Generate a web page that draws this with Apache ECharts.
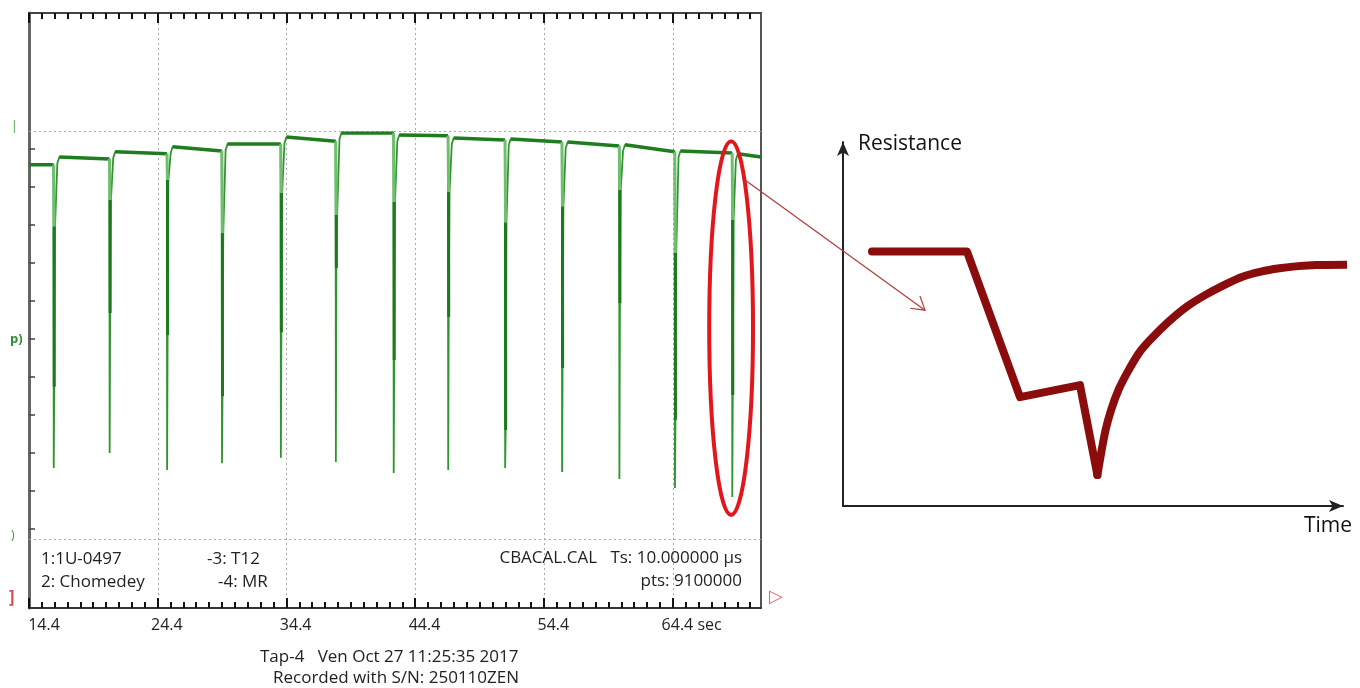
<!DOCTYPE html>
<html>
<head>
<meta charset="utf-8">
<title>Tap-4 resistance trace</title>
<script src="https://cdn.jsdelivr.net/npm/echarts@6.0.0/dist/echarts.min.js"></script>
<style>
html, body { margin: 0; padding: 0; background: #fff; }
#chart { width: 1360px; height: 688px; }
</style>
</head>
<body>
<div id="chart"></div>
<script>
// recorder trace: time in sec, level in screen divisions
const tickLabels = ['14.4', '24.4', '34.4', '44.4', '54.4', '64.4 sec']
const majorTicks = [14.4, 24.4, 34.4, 44.4, 54.4, 64.4]
const levelTicks = [0.25, 1.18, 2.11, 3.04, 3.97, 4.90, 5.83, 6.76, 7.70, 8.63, 9.56]
const dipTimes = [16.30, 20.64, 25.10, 29.36, 33.93, 38.20, 42.69, 46.92, 51.34, 55.76, 60.21, 64.52, 68.97]
const dipBottoms = [1.74, 2.11, 1.69, 1.86, 1.99, 1.89, 1.62, 1.69, 1.74, 1.64, 1.47, 1.25, 1.03]
const dipShoulders = [3.73, 5.54, 5.00, 3.50, 5.07, 6.64, 4.39, 5.44, 2.67, 4.19, 5.78, 2.92, 3.53]
const dipKnees = [7.65, 8.31, 8.80, 7.50, 8.48, 7.94, 8.26, 8.50, 7.75, 8.14, 8.55, 7.01, 7.82]
const plateauStart = [9.17, 9.36, 9.49, 9.61, 9.68, 9.85, 9.95, 9.90, 9.83, 9.80, 9.73, 9.66, 9.51, 9.44]
const plateauEnd = [9.17, 9.31, 9.44, 9.51, 9.68, 9.75, 9.95, 9.88, 9.78, 9.73, 9.63, 9.49, 9.46, 9.36]

// sketch of one event
const dropTime = [2.9, 12.4, 17.7, 23.7, 25.44]
const dropResistance = [6.99, 6.99, 2.99, 3.32, 0.85]
const recoveryTime = [25.44, 25.81, 26.26, 26.81, 27.55, 28.48, 29.59, 30.7, 32.55, 34.4, 36.25, 38.1, 39.95, 41.8, 43.65, 45.5, 47.34, 51.0]
const recoveryResistance = [0.85, 1.45, 2.09, 2.64, 3.19, 3.69, 4.20, 4.56, 5.06, 5.48, 5.80, 6.07, 6.30, 6.44, 6.53, 6.59, 6.62, 6.63]

// highlighted last event and the pointer to the sketch
const ringTime = [67.2, 70.6]
const ringLevel = [0.59, 9.75]
const pointerFrom = [69.98, 8.80]
const pointerTo = [8.2, 5.38]

const tMin = 14.4
const tMax = 71.22
const levelMin = -1.69
const levelMax = 12.89

const trace = []
const plateau = []
const burst = []
const core = []
for (let i = 0; i < plateauStart.length; i++) {
  const a = i === 0 ? tMin : dipTimes[i - 1] + 0.45
  const b = i < dipTimes.length ? dipTimes[i] : tMax
  trace.push([a, plateauStart[i]], [b, plateauEnd[i]])
  plateau.push([a, plateauStart[i]], [b, plateauEnd[i]], [b + 0.01, null])
  if (i < dipTimes.length) {
    const t = dipTimes[i]
    trace.push(
      [t + 0.02, dipBottoms[i]],
      [t + 0.06, dipShoulders[i]],
      [t + 0.12, dipKnees[i]],
      [t + 0.3, plateauStart[i + 1] - 0.15]
    )
    burst.push([t + 0.01, plateauEnd[i]], [t + 0.05, dipKnees[i]], [t + 0.06, null])
    core.push([t + 0.05, dipKnees[i]], [t + 0.06, dipShoulders[i]], [t + 0.07, null])
  }
}

const font = '"Open Sans", "Noto Sans", sans-serif'
const hidden = () => ({ show: false })
// labels sit slightly left of their tick, like the recorder print
const labelGap = [30, 18, 18, 18, 18, 37]

function segmentSeries(name, data, color, width) {
  return {
    name: name,
    type: 'line',
    xAxisIndex: 0,
    yAxisIndex: 0,
    data: data,
    showSymbol: false,
    connectNulls: false,
    lineStyle: { color: color, width: width },
    z: 4
  }
}

const rich = { t: { fontSize: 16, fontFamily: font, color: '#222' } }
labelGap.forEach((w, i) => { rich['g' + i] = { width: w } })

const chart = echarts.init(document.getElementById('chart'))

const option = {
  animation: false,
  backgroundColor: '#fff',
  grid: [
    { left: 29, right: 599, top: 13, bottom: 80 },
    { left: 843, right: 17, top: 142, bottom: 182 }
  ],
  xAxis: [
    {
      type: 'value',
      gridIndex: 0,
      min: tMin,
      max: tMax,
      interval: 10,
      axisLine: { show: true, onZero: false, lineStyle: { color: '#333', width: 2 } },
      axisTick: hidden(),
      splitLine: { show: true, lineStyle: { color: '#a8a8a8', type: [2, 3], width: 1 } },
      axisLabel: {
        show: true,
        showMaxLabel: false,
        align: 'center',
        margin: 9,
        rich: rich,
        formatter: (v, i) => tickLabels[i] ? '{g' + i + '| }{t|' + tickLabels[i] + '}' : ''
      }
    },
    {
      type: 'value',
      gridIndex: 0,
      position: 'top',
      min: tMin,
      max: tMax,
      axisLine: { show: true, onZero: false, lineStyle: { color: '#444', width: 2 } },
      axisTick: hidden(),
      axisLabel: hidden(),
      splitLine: hidden()
    },
    {
      type: 'value',
      gridIndex: 1,
      min: 0,
      max: 50,
      name: 'Time',
      nameLocation: 'end',
      nameGap: 9,
      nameTextStyle: { fontSize: 21, fontFamily: font, color: '#111', align: 'right', verticalAlign: 'top', padding: [10, 0, 0, 0] },
      axisLine: { show: true, onZero: false, symbol: ['none', 'arrow'], symbolSize: [9, 14], lineStyle: { color: '#222', width: 2 } },
      axisTick: hidden(),
      axisLabel: hidden(),
      splitLine: hidden()
    }
  ],
  yAxis: [
    {
      type: 'value',
      gridIndex: 0,
      position: 'left',
      min: levelMin,
      max: levelMax,
      axisLine: { show: true, onZero: false, lineStyle: { color: '#666', width: 3 } },
      axisTick: { show: true, inside: true, length: 6, customValues: levelTicks, lineStyle: { color: '#444', width: 1.5 } },
      axisLabel: hidden(),
      splitLine: hidden()
    },
    {
      type: 'value',
      gridIndex: 0,
      position: 'right',
      min: 0,
      max: 1,
      axisLine: { show: true, onZero: false, lineStyle: { color: '#555', width: 2 } },
      axisTick: hidden(),
      axisLabel: hidden(),
      splitLine: hidden()
    },
    {
      type: 'value',
      gridIndex: 1,
      min: 0,
      max: 10,
      name: 'Resistance',
      nameLocation: 'end',
      nameGap: -2,
      nameTextStyle: { fontSize: 21, fontFamily: font, color: '#111', align: 'left', verticalAlign: 'middle', padding: [0, 0, 0, 15] },
      axisLine: { show: true, onZero: false, symbol: ['none', 'arrow'], symbolSize: [9, 14], lineStyle: { color: '#222', width: 2 } },
      axisTick: hidden(),
      axisLabel: hidden(),
      splitLine: hidden()
    }
  ],
  series: [
    {
      name: 'trace',
      type: 'line',
      xAxisIndex: 0,
      yAxisIndex: 0,
      data: trace,
      showSymbol: false,
      lineStyle: { color: '#2f962f', width: 1.8 },
      z: 3,
      markLine: {
        silent: true,
        symbol: ['none', 'none'],
        label: hidden(),
        lineStyle: { color: '#a8a8a8', type: [2, 3], width: 1 },
        data: [{ yAxis: 0 }, { yAxis: 10 }]
      }
    },
    segmentSeries('plateau', plateau, '#1f7d1f', 3.5),
    segmentSeries('burst', burst, '#6fbf6f', 3),
    segmentSeries('core', core, '#1c7a1c', 3),
    {
      name: 'drop',
      type: 'line',
      xAxisIndex: 2,
      yAxisIndex: 2,
      data: dropTime.map((t, i) => [t, dropResistance[i]]),
      showSymbol: false,
      clip: false,
      lineStyle: { color: '#8a0c0c', width: 8, cap: 'round', join: 'round' }
    },
    {
      name: 'recovery',
      type: 'line',
      xAxisIndex: 2,
      yAxisIndex: 2,
      data: recoveryTime.map((t, i) => [t, recoveryResistance[i]]),
      showSymbol: false,
      smooth: 0.2,
      clip: false,
      lineStyle: { color: '#8a0c0c', width: 8, cap: 'round', join: 'round' }
    }
  ]
}

chart.setOption(option)

function txt(x, y, text, size, color, align, weight) {
  return {
    type: 'text',
    x: x,
    y: y,
    z: 50,
    style: {
      text: text,
      fill: color || '#222',
      font: (weight || 'normal') + ' ' + size + 'px ' + font,
      align: align || 'left',
      verticalAlign: 'middle'
    }
  }
}

const toPx = (p) => chart.convertToPixel({ seriesIndex: 0 }, p)

// comb ticks on the top and bottom frame (1 s minor, 10 s major)
const combs = []
for (let t = tMin; t < tMax; t += 1) {
  const major = majorTicks.some(m => Math.abs(m - t) < 0.01)
  const len = major ? 10 : 6
  const style = { stroke: '#111', lineWidth: 2 }
  const bottom = toPx([t, levelMin])
  const top = toPx([t, levelMax])
  const x = Math.round(bottom[0])
  combs.push(
    { type: 'line', z: 55, silent: true, shape: { x1: x, y1: bottom[1], x2: x, y2: bottom[1] - len }, style: style },
    { type: 'line', z: 55, silent: true, shape: { x1: x, y1: top[1], x2: x, y2: top[1] + len }, style: style }
  )
}

const c1 = toPx([ringTime[0], ringLevel[0]])
const c2 = toPx([ringTime[1], ringLevel[1]])
const p1 = toPx(pointerFrom)
const p2 = chart.convertToPixel({ seriesIndex: 4 }, pointerTo)
const ang = Math.atan2(p1[1] - p2[1], p1[0] - p2[0])
const head = [ang - 0.5, ang + 0.6].map(a => [p2[0] + 15 * Math.cos(a), p2[1] + 15 * Math.sin(a)])

chart.setOption({
  graphic: combs.concat([
    {
      type: 'ellipse',
      z: 60,
      shape: { cx: (c1[0] + c2[0]) / 2, cy: (c1[1] + c2[1]) / 2, rx: Math.abs(c2[0] - c1[0]) / 2, ry: Math.abs(c1[1] - c2[1]) / 2 },
      style: { fill: 'none', stroke: '#e3161c', lineWidth: 4 }
    },
    {
      type: 'line',
      z: 60,
      shape: { x1: p1[0], y1: p1[1], x2: p2[0], y2: p2[1] },
      style: { stroke: '#b23a3a', lineWidth: 1.2 }
    },
    {
      type: 'polyline',
      z: 60,
      shape: { points: [head[0], p2, head[1]] },
      style: { fill: 'none', stroke: '#b23a3a', lineWidth: 1.2 }
    },
    txt(41, 559, '1:1U-0497', 17),
    txt(41, 582, '2: Chomedey', 17),
    txt(207, 559, '-3: T12', 17),
    txt(218, 582, '-4: MR', 17),
    txt(597, 558, 'CBACAL.CAL', 17, '#222', 'right'),
    txt(742, 558, 'Ts: 10.000000 µs', 17, '#222', 'right'),
    txt(742, 581, 'pts: 9100000', 17, '#222', 'right'),
    txt(260, 657, 'Tap-4   Ven Oct 27 11:25:35 2017', 17),
    txt(273, 678, 'Recorded with S/N: 250110ZEN', 17),
    txt(11, 127, '|', 12, '#3a9a3a'),
    txt(10, 339, 'p)', 13, '#2f8f2f', 'left', 'bold'),
    txt(11, 536, ')', 12, '#3a9a3a'),
    txt(9, 598, ']', 17, '#d05050', 'left', 'bold'),
    txt(769, 597, '▷', 18, '#e06b6b')
  ])
})
</script>
</body>
</html>
